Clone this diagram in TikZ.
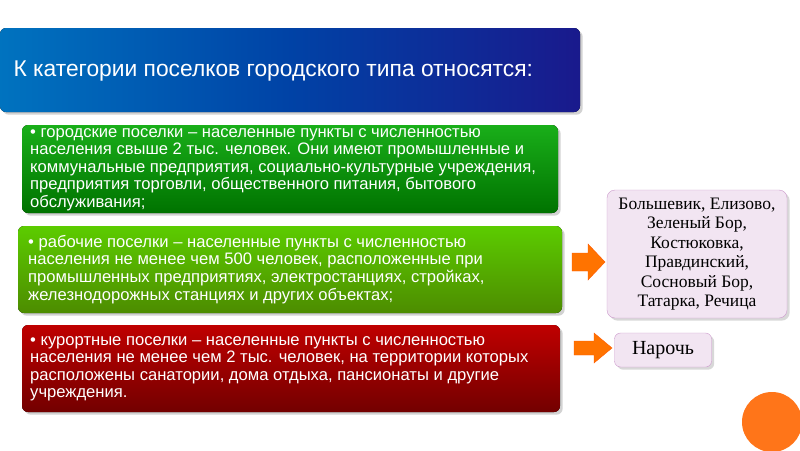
\documentclass[tikz,border=0pt]{standalone}
\usepackage{fontspec}
\setmainfont{Liberation Sans}
\newfontfamily\serifb{Liberation Serif}
\usetikzlibrary{shadows}
\begin{document}
\begin{tikzpicture}[x=1pt,y=-1pt,
  bx/.style={rounded corners=6pt,drop shadow={opacity=0.35}},
  btxt/.style={anchor=north west,align=left,text=white,font=\fontsize{16.6}{17.6}\selectfont,inner sep=0pt},
  rtxt/.style={align=center,font=\serifb\fontsize{17.5}{19.5}\selectfont},
  arrs/.style={fill=orange!90!red,draw=orange!70!red}]
\useasboundingbox (0,0) rectangle (800,450);
\fill[white] (0,0) rectangle (800,450);
\fill[orange!80!red!90] (772,422) circle (30);
\fill[bx,left color=blue!40!cyan!75!black,right color=blue!50!black!90,middle color=blue!60!cyan!65!black] (0,28) rectangle (580,112);
\node[anchor=west,text=white,font=\fontsize{22.8}{25}\selectfont] (title) at (10,71) {К категории поселков городского типа относятся:};
\fill[bx,top color=green!65!black!90,bottom color=green!45!black] (22,125) rectangle (558,213);
\node[btxt] (t1) at (30,128) {• городские поселки – населенные пункты с численностью\\населения свыше 2 тыс. человек. Они имеют промышленные и\\коммунальные предприятия, социально-культурные учреждения,\\предприятия торговли, общественного питания, бытового\\обслуживания;};
\fill[bx,top color=green!55!yellow!80!black,bottom color=green!45!yellow!55!black] (18,226) rectangle (562,313);
\node[btxt] (t2) at (28,235) {• рабочие поселки – населенные пункты с численностью\\населения не менее чем 500 человек, расположенные при\\промышленных предприятиях, электростанциях, стройках,\\железнодорожных станциях и других объектах;};
\fill[bx,top color=red!75!black,bottom color=red!45!black] (22,325) rectangle (560,412);
\node[btxt] (t3) at (30,336) {• курортные поселки – населенные пункты с численностью\\населения не менее чем 2 тыс. человек, на территории которых\\расположены санатории, дома отдыха, пансионаты и другие\\учреждения.};
\node[rtxt,draw=violet!40,fill=violet!10,rounded corners=8pt,minimum width=180pt,minimum height=128pt,drop shadow={opacity=0.3}] (r1) at (697,254) {Большевик, Елизово,\\Зеленый Бор,\\Костюковка,\\Правдинский,\\Сосновый Бор,\\Татарка, Речица};
\node[rtxt,font=\serifb\fontsize{20}{22}\selectfont,draw=violet!40,fill=violet!10,rounded corners=6pt,minimum width=97pt,minimum height=34pt,drop shadow={opacity=0.3}] (r2) at (663,350) {Нарочь};
\path[arrs] (572,253) -- (588,253) -- (588,244) -- (605,262) -- (588,280) -- (588,271) -- (572,271) -- cycle;
\path[arrs] (574,341) -- (594,341) -- (594,333) -- (612,348) -- (594,363) -- (594,355) -- (574,355) -- cycle;
\end{tikzpicture}
\end{document}
